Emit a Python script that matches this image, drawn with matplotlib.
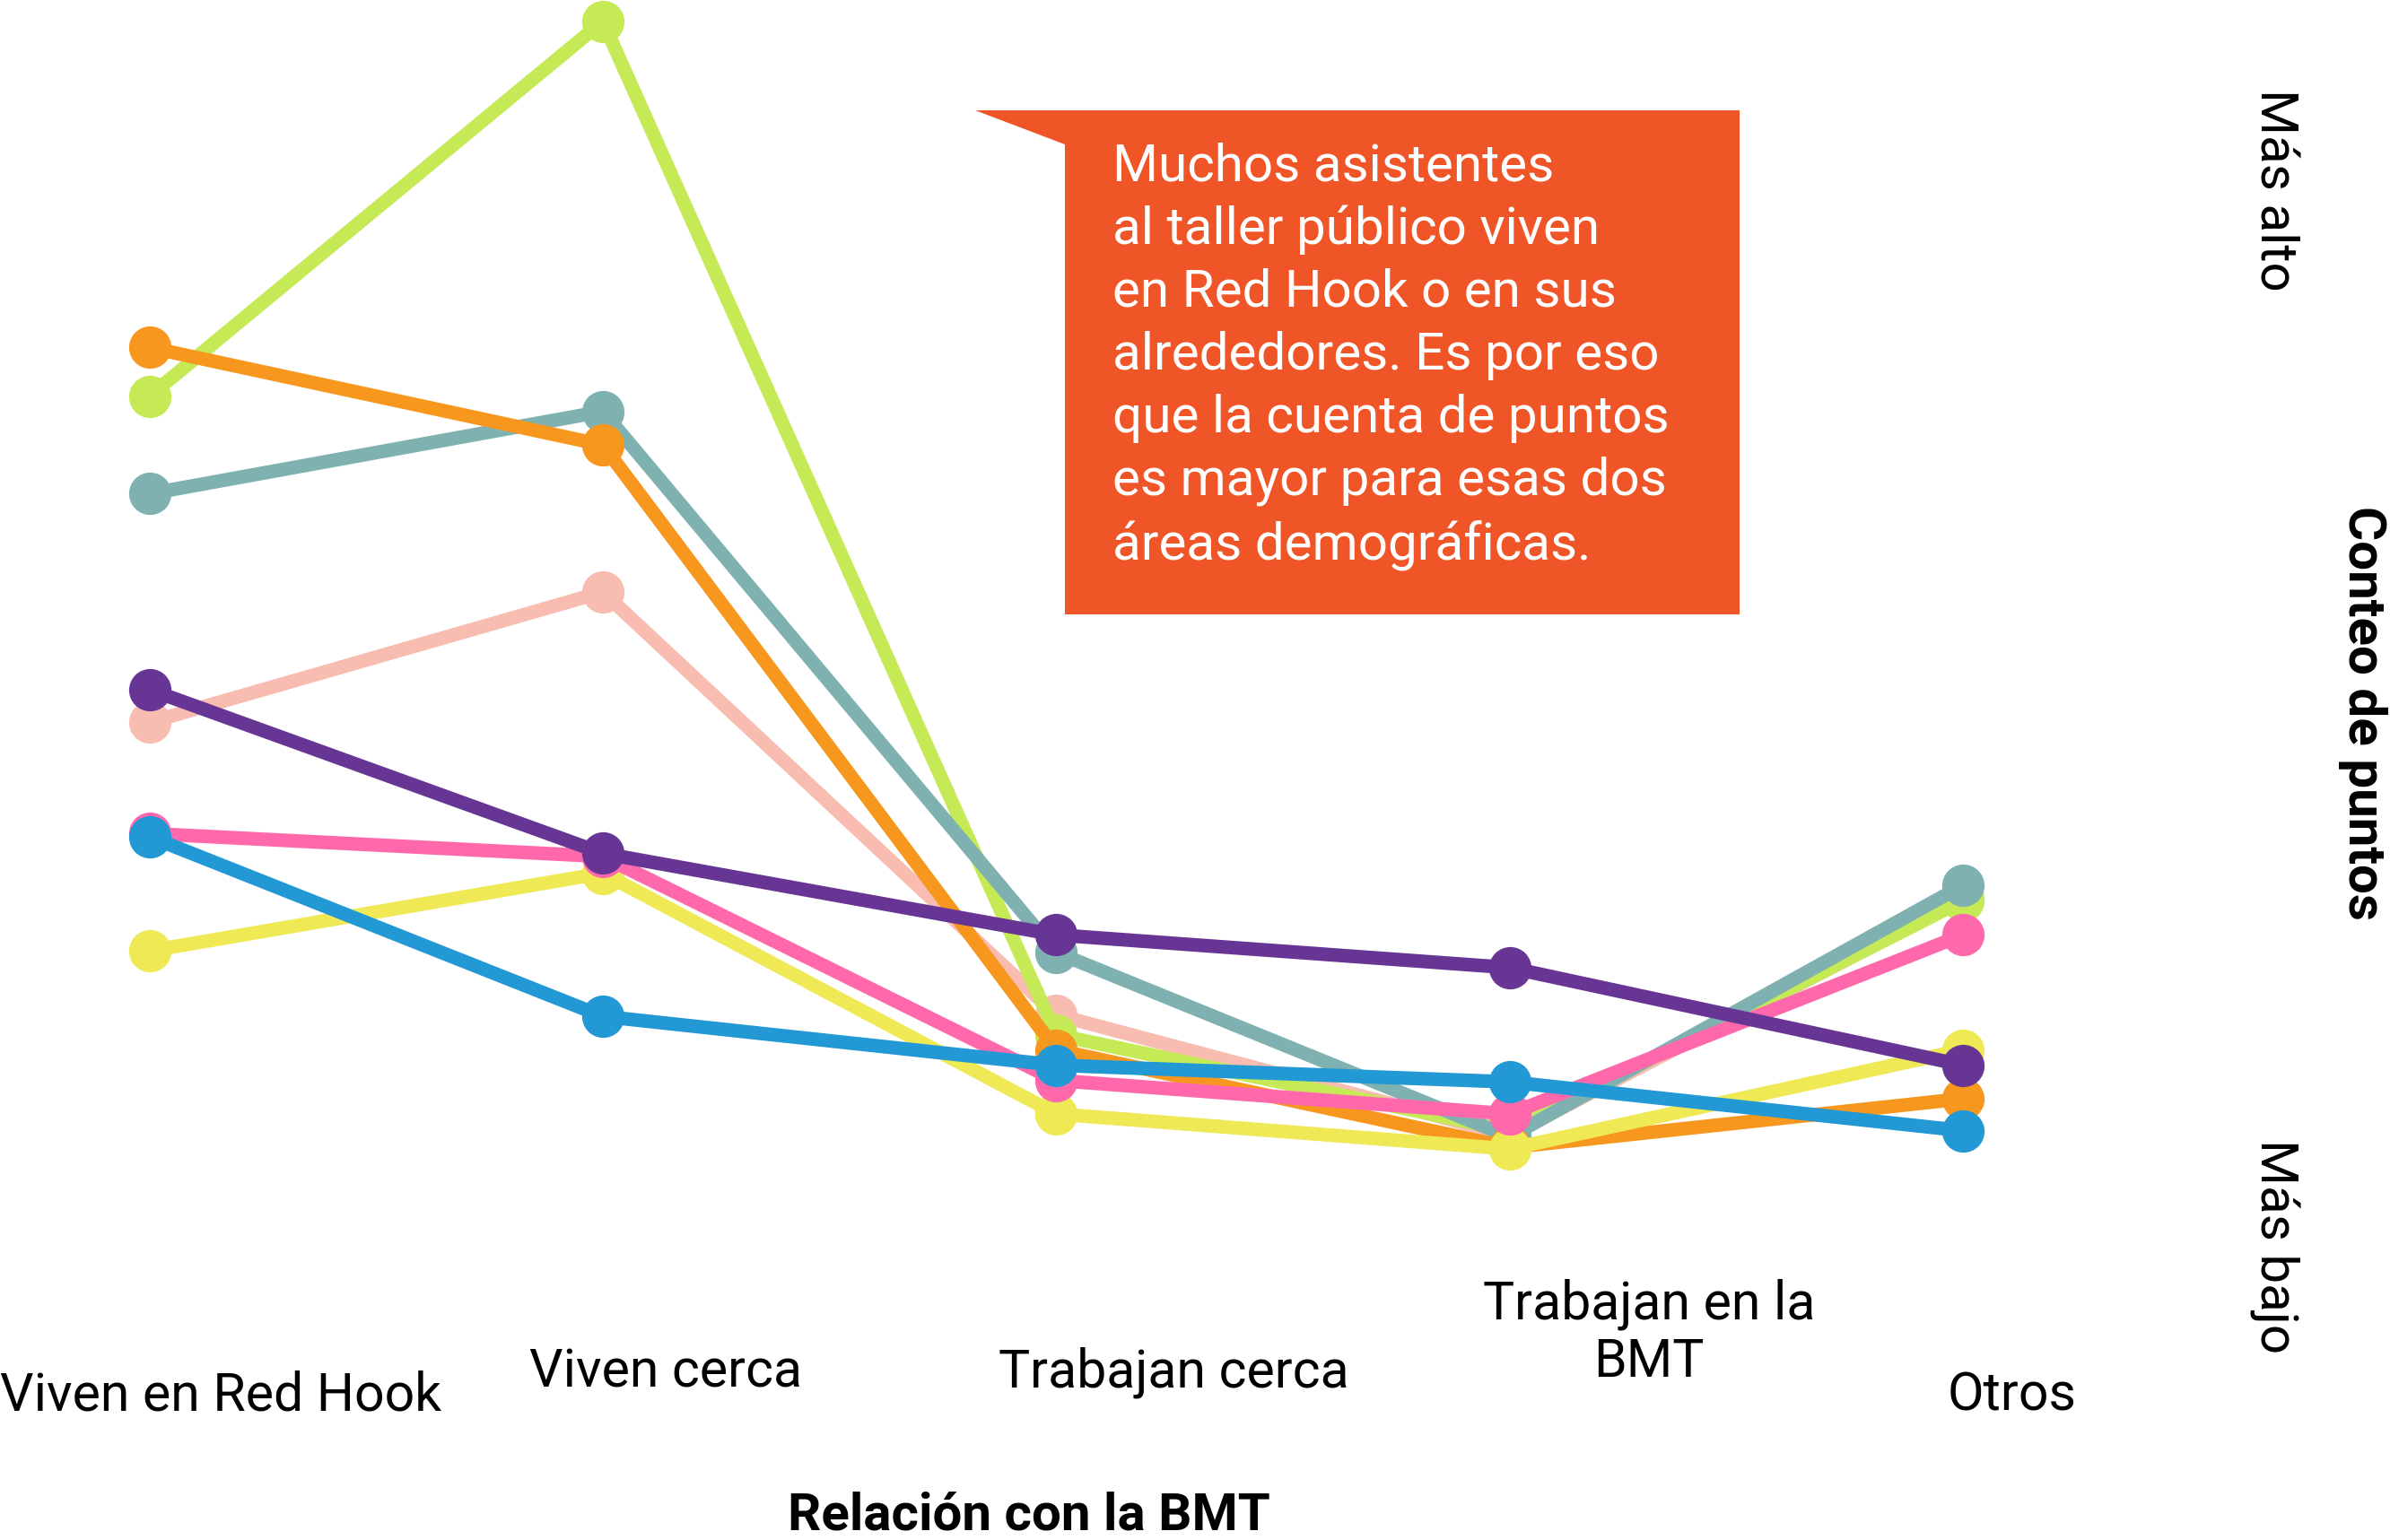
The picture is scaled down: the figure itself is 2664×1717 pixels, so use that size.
import matplotlib.pyplot as plt
from matplotlib.patches import Polygon

plt.rcParams['font.family'] = ['Roboto', 'DejaVu Sans']

categories = ["Viven en Red Hook", "Viven cerca", "Trabajan cerca", "Trabajan en la\nBMT", "Otros"]

# relative point counts (no absolute scale shown)
salmon = [57.2, 74.3, 18.8, 3.0, 34.0]
lime = [100.0, 149.2, 16.2, 3.6, 33.8]
teal = [87.2, 98.0, 27.0, 2.8, 35.8]
orange = [106.4, 93.6, 14.2, 1.4, 7.8]
yellow = [27.2, 37.4, 5.8, 1.2, 14.2]
pink = [42.6, 39.6, 10.2, 5.8, 29.3]
blue = [42.2, 18.6, 12.2, 10.0, 3.6]
purple = [61.5, 40.0, 29.3, 25.0, 12.2]

series = [
    (salmon, "#F8BCB0"),
    (lime, "#C5EA56"),
    (teal, "#7FB1B1"),
    (orange, "#F7971D"),
    (yellow, "#EFE955"),
    (pink, "#FF69AC"),
    (blue, "#2298D5"),
    (purple, "#673694"),
]

W, H = 2664, 1717
fig = plt.figure(figsize=(W / 100, H / 100), dpi=100)
ax = fig.add_axes([0, 0, 1, 1])
ax.set_axis_off()

xs = range(len(categories))
for vals, col in series:
    ax.plot(xs, vals, color=col, lw=11, marker='o', ms=33, solid_capstyle='round')

ax.set_xlim(-0.3295, 4.9417)
ax.set_ylim(-50.12, 152.0)

def ft(x, y, s, **kw):
    fig.text(x / W, 1 - y / H, s, **kw)

# category labels
lab_kw = dict(fontsize=42.5, ha='center', va='center')
ft(246, 1556, categories[0], **lab_kw)
ft(742, 1530, categories[1], **lab_kw)
ft(1308, 1530, categories[2], **lab_kw)
ft(1838, 1486, categories[3], linespacing=1.15, **lab_kw)
ft(2243, 1556, categories[4], **lab_kw)

ft(1147, 1690, "Relación con la BMT", fontsize=42, fontweight='bold', ha='center', va='center')

# right-hand axis text
ft(2535, 212, "Más alto", fontsize=42, rotation=-90, ha='center', va='center')
ft(2633, 795, "Conteo de puntos", fontsize=42, fontweight='bold', rotation=-90, ha='center', va='center')
ft(2535, 1390, "Más bajo", fontsize=42, rotation=-90, ha='center', va='center')

# callout box
pts = [(1087, 123), (1939, 123), (1939, 685), (1187, 685), (1187, 161)]
poly = Polygon([(x / W, 1 - y / H) for x, y in pts], closed=True, facecolor="#F05528",
               edgecolor='none', transform=fig.transFigure)
fig.patches.append(poly)

note = ("Muchos asistentes\nal taller público viven\nen Red Hook o en sus\n"
        "alrededores. Es por eso\nque la cuenta de puntos\nes mayor para esas dos\n"
        "áreas demográficas.")
ft(1240, 158, note, fontsize=42, color='white', ha='left', va='top', linespacing=1.35)

fig.savefig("out.png", dpi=100, facecolor='white')
